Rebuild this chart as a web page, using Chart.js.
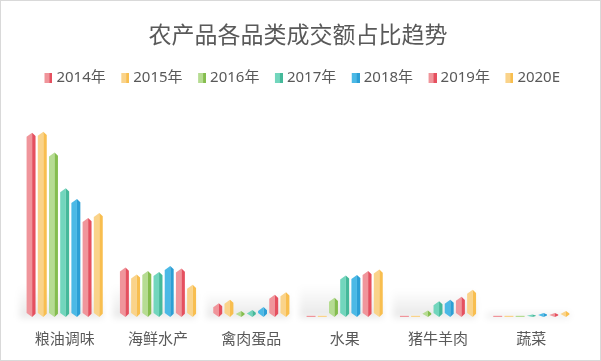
<!DOCTYPE html>
<html>
<head>
<meta charset="utf-8">
<script src="https://cdn.jsdelivr.net/npm/chart.js@4.4.1/dist/chart.umd.min.js"></script>
<style>
  html, body { margin: 0; padding: 0; background: #fff; }
  #wrap { width: 601px; height: 361px; box-sizing: border-box; border: 1px solid #d9d9d9; overflow: hidden; }
  canvas { display: block; }
</style>
</head>
<body>
<div id="wrap"><canvas id="shareChart" width="599" height="361"></canvas></div>
<script>
// categories and years
const categories = ['粮油调味', '海鲜水产', '禽肉蛋品', '水果', '猪牛羊肉', '蔬菜'];
const years = ['2014年', '2015年', '2016年', '2017年', '2018年', '2019年', '2020E'];

// share (%) per year, one value per category
const share2014 = [74.4, 20.0, 5.6, 0.4, 0.4, 0.4];
const share2015 = [74.8, 17.2, 7.0, 0.4, 0.4, 0.4];
const share2016 = [66.4, 18.6, 2.4, 7.8, 2.6, 0.4];
const share2017 = [52.0, 18.2, 2.8, 16.8, 6.4, 1.0];
const share2018 = [47.6, 20.6, 4.0, 17.0, 7.0, 1.6];
const share2019 = [40.0, 19.6, 9.0, 18.6, 8.2, 1.6];
const share2020 = [42.0, 13.0, 10.0, 19.2, 11.0, 2.4];

const seriesValues = [share2014, share2015, share2016, share2017, share2018, share2019, share2020];

// light face / dark face of each prism
const lightColors = ['#f0959b', '#fad38a', '#b6dc92', '#72d6bd', '#4bb9e6', '#f0959b', '#fad38a'];
const darkColors  = ['#e5505f', '#f8be4f', '#85bd4e', '#45b99a', '#2c9fd5', '#e5505f', '#f8be4f'];

// two tone swatch for the legend, drawn in the right half so it sits close to the text
function makeSwatch(light, dark) {
  const c = document.createElement('canvas');
  c.width = 16; c.height = 10;
  const g = c.getContext('2d');
  g.fillStyle = light; g.fillRect(8, 0, 5, 10);
  g.fillStyle = dark; g.fillRect(13, 0, 3, 10);
  return c;
}

function drawPrism(ctx, x, top, base, w, light, dark) {
  const l = x - w / 2, r = x + w / 2, m = l + w * 0.62;
  const h = base - top;
  if (h < 2) {
    ctx.fillStyle = light;
    ctx.fillRect(l, base - 1.2, w, 1.2);
    return;
  }
  const cap = Math.min(4, h / 2);
  ctx.fillStyle = light;
  ctx.beginPath();
  ctx.moveTo(l, top + cap);
  ctx.lineTo(m, top);
  ctx.lineTo(m, base);
  ctx.lineTo(l, base - cap);
  ctx.closePath();
  ctx.fill();
  ctx.fillStyle = dark;
  ctx.beginPath();
  ctx.moveTo(m, top);
  ctx.lineTo(r, top + cap * 0.8);
  ctx.lineTo(r, base - cap * 0.8);
  ctx.lineTo(m, base);
  ctx.closePath();
  ctx.fill();
}

// draws each bar as a prism, using the positions chart.js computed
const prismBars = {
  id: 'prismBars',
  afterLayout(chart) {
    // nudge the legend row a little to the right
    chart.legend.left += 2;
    chart.legend.right += 2;
  },
  afterDatasetsDraw(chart) {
    const ctx = chart.ctx;
    const metas = chart.data.datasets.map((ds, i) => chart.getDatasetMeta(i));
    ctx.save();
    // soft floor shadow behind every group
    categories.forEach((c, j) => {
      const first = metas[0].data[j], last = metas[metas.length - 1].data[j];
      let tallest = 0;
      metas.forEach(m => { tallest = Math.max(tallest, m.data[j].base - m.data[j].y); });
      const sh = Math.min(32, tallest);
      if (sh < 3) return;
      const left = first.x - first.width / 2 - 7, right = last.x + last.width / 2;
      const base = first.base;
      const grad = ctx.createLinearGradient(0, base - sh, 0, base);
      grad.addColorStop(0, 'rgba(0,0,0,0)');
      grad.addColorStop(1, 'rgba(0,0,0,0.09)');
      ctx.filter = 'blur(3px)';
      ctx.fillStyle = grad;
      ctx.fillRect(left, base - sh, right - left, sh + 1);
      ctx.filter = 'none';
    });
    metas.forEach((meta, i) => {
      meta.data.forEach(bar => {
        drawPrism(ctx, bar.x, bar.y, bar.base, bar.width, lightColors[i], darkColors[i]);
      });
    });
    ctx.restore();
  }
};

const ctx = document.getElementById('shareChart').getContext('2d');
const fontFamily = '"Noto Sans", "Noto Sans CJK SC", sans-serif';

new Chart(ctx, {
  type: 'bar',
  data: {
    labels: categories,
    datasets: years.map((y, i) => ({
      label: y,
      data: seriesValues[i],
      backgroundColor: 'rgba(0,0,0,0)',
      borderWidth: 0,
      categoryPercentage: 0.84,
      barPercentage: 0.8
    }))
  },
  options: {
    responsive: false,
    animation: false,
    layout: { padding: { left: 17, right: 22, top: 0, bottom: 0 } },
    plugins: {
      title: {
        display: true,
        text: '农产品各品类成交额占比趋势',
        color: '#595959',
        font: { family: fontFamily, size: 23, weight: 'normal' },
        padding: { top: 22, bottom: 9 }
      },
      legend: {
        display: true,
        labels: {
          color: '#595959',
          font: { family: fontFamily, size: 15 },
          usePointStyle: true,
          boxWidth: 9,
          boxHeight: 10,
          padding: 11,
          generateLabels(chart) {
            return chart.data.datasets.map((ds, i) => ({
              text: ds.label,
              pointStyle: makeSwatch(lightColors[i], darkColors[i]),
              fillStyle: lightColors[i],
              strokeStyle: darkColors[i],
              lineWidth: 0,
              fontColor: '#595959',
              datasetIndex: i
            }));
          }
        }
      },
      tooltip: { enabled: false }
    },
    scales: {
      x: {
        grid: { display: false, drawTicks: false },
        border: { display: false },
        ticks: { color: '#595959', font: { family: fontFamily, size: 15 }, padding: 13.5 }
      },
      y: {
        display: false,
        min: 0,
        max: 89.4
      }
    }
  },
  plugins: [prismBars]
});
</script>
</body>
</html>
